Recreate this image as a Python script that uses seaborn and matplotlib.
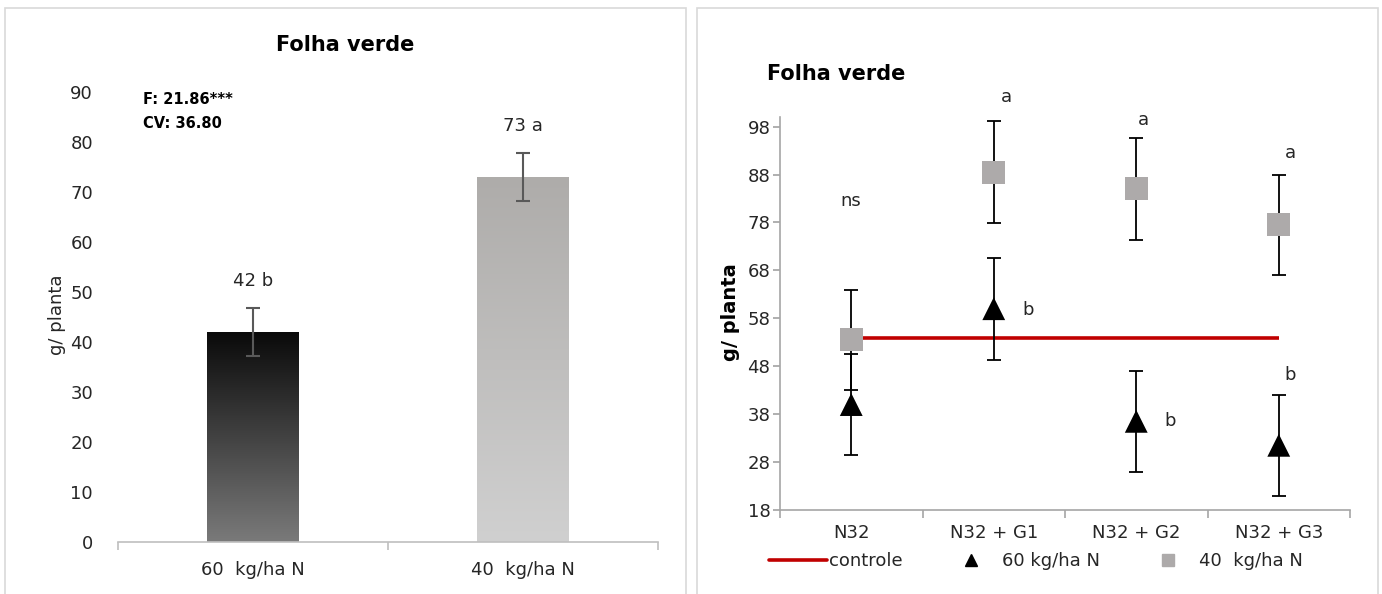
import numpy as np
import pandas as pd
import matplotlib
matplotlib.use("Agg")
import matplotlib.pyplot as plt
import seaborn as sns
from matplotlib.lines import Line2D
from matplotlib.patches import Rectangle

# -----------------------------
# Data
# -----------------------------
bar_cats = ["60  kg/ha N", "40  kg/ha N"]
bar_vals = [42, 73]
bar_err = [4.8, 4.75]
bar_labels = ["42 b", "73 a"]

trt = ["N32", "N32 + G1", "N32 + G2", "N32 + G3"]
dose60 = [40, 60, 36.5, 31.5]
dose40 = [53.5, 88.5, 85, 77.5]
err60 = [10.5, 10.6, 10.6, 10.5]
err40 = [10.5, 10.6, 10.6, 10.5]
controle = 53.9
letters40 = ["", "a", "a", "a"]
letters60 = ["", "b", "b", "b"]

sns.set_theme(style="white")
plt.rcParams["font.family"] = ["DejaVu Sans"]

W, H = 1382, 594
fig = plt.figure(figsize=(W / 100, H / 100), dpi=100)

def fx(px):
    return px / W

def fy(py):
    return 1 - py / H

# panel frames
for x0, x1 in [(5, 686), (697, 1378)]:
    fig.patches.append(Rectangle((fx(x0), fy(596)), fx(x1 - x0), fy(8) - fy(596),
                                 transform=fig.transFigure, fill=False,
                                 edgecolor="#d9d9d9", lw=1.2))

# -----------------------------
# Left: bar chart
# -----------------------------
ax1 = fig.add_axes([fx(118), fy(542), fx(658 - 118), fy(92) - fy(542)])
df_bar = pd.DataFrame({"dose": bar_cats, "g": bar_vals})
sns.barplot(data=df_bar, x="dose", y="g", ax=ax1, width=0.34, errorbar=None,
            color="#888888")
ax1.set_xlim(-0.5, 1.5)
ax1.set_ylim(0, 90)

grads = [("#7a7a7a", "#0a0a0a"), ("#d0d0d0", "#aeacaa")]
for patch, (c_bot, c_top) in zip(ax1.patches, grads):
    x0 = patch.get_x()
    w = patch.get_width()
    h = patch.get_height()
    cmap = matplotlib.colors.LinearSegmentedColormap.from_list("g", [c_bot, c_top])
    grad = np.linspace(0, 1, 256).reshape(-1, 1)
    im = ax1.imshow(grad, extent=[x0, x0 + w, 0, h], origin="lower",
                    aspect="auto", cmap=cmap, zorder=2)
    im.set_clip_path(patch)
    patch.set_facecolor("none")
    patch.set_edgecolor("none")

ax1.errorbar(range(len(bar_vals)), bar_vals, yerr=bar_err, fmt="none",
             ecolor="#595959", elinewidth=1.5, capsize=5, capthick=1.5, zorder=3)
for i, (v, e, lab) in enumerate(zip(bar_vals, bar_err, bar_labels)):
    ax1.text(i, v + e + 5.5, lab, ha="center", va="center", fontsize=13,
             color="#262626")

ax1.set_yticks(range(0, 91, 10))
ax1.set_xlabel("")
ax1.set_ylabel("")
ax1.tick_params(axis="y", length=0, labelsize=13, labelcolor="#262626", pad=18)
ax1.tick_params(axis="x", length=0, labelsize=13, labelcolor="#262626", pad=14)
ax1.set_xticks([-0.5, 0.5, 1.5], minor=True)
ax1.tick_params(axis="x", which="minor", direction="out", length=6,
                color="#bfbfbf", width=1.2, bottom=True)
for s in ["top", "right", "left"]:
    ax1.spines[s].set_visible(False)
ax1.spines["bottom"].set_color("#bfbfbf")
ax1.spines["bottom"].set_linewidth(1.2)

fig.text(fx(345), fy(45), "Folha verde", ha="center", va="center",
         fontsize=15, fontweight="bold", color="black")
fig.text(fx(143), fy(100), "F: 21.86***", ha="left", va="center",
         fontsize=10.5, fontweight="bold", color="black")
fig.text(fx(143), fy(124), "CV: 36.80", ha="left", va="center",
         fontsize=10.5, fontweight="bold", color="black")
fig.text(fx(57), fy(315), "g/ planta", ha="center", va="center",
         rotation=90, fontsize=13, color="#262626")

# -----------------------------
# Right: treatment means
# -----------------------------
ax2 = fig.add_axes([fx(780), fy(510), fx(1350 - 780), fy(117) - fy(510)])
df_pts = pd.DataFrame({
    "trt": trt * 2,
    "g": dose60 + dose40,
    "dose": ["60 kg/ha N"] * 4 + ["40  kg/ha N"] * 4,
})
pos = np.arange(len(trt))

ax2.plot([pos[0], pos[-1]], [controle, controle], color="#c00000", lw=2.6,
         zorder=2, solid_capstyle="butt")
ax2.errorbar(pos, dose40, yerr=err40, fmt="none", ecolor="black",
             elinewidth=1.3, capsize=5, capthick=1.3, zorder=3)
ax2.errorbar(pos, dose60, yerr=err60, fmt="none", ecolor="black",
             elinewidth=1.3, capsize=5, capthick=1.3, zorder=3)
sns.scatterplot(data=df_pts, x="trt", y="g", hue="dose", style="dose",
                palette={"60 kg/ha N": "black", "40  kg/ha N": "#adaaaa"},
                markers={"60 kg/ha N": "^", "40  kg/ha N": "s"},
                s=270, linewidth=0, ax=ax2, zorder=4, legend=False)

ax2.set_xlim(-0.5, 3.5)
ax2.set_ylim(18, 100)
ax2.set_yticks(range(18, 99, 10))
ax2.set_xticks(pos)
ax2.set_xticklabels(trt)
ax2.set_xlabel("")
ax2.set_ylabel("")
ax2.tick_params(axis="y", direction="out", length=5, color="#a6a6a6",
                labelsize=13, labelcolor="#262626", left=True, pad=2)
ax2.tick_params(axis="x", length=0, labelsize=13, labelcolor="#262626", pad=10)
ax2.set_xticks([-0.5, 0.5, 1.5, 2.5, 3.5], minor=True)
ax2.tick_params(axis="x", which="minor", direction="out", length=6,
                color="#a6a6a6", width=1.2, bottom=True)
for s in ["top", "right"]:
    ax2.spines[s].set_visible(False)
for s in ["left", "bottom"]:
    ax2.spines[s].set_color("#a6a6a6")
    ax2.spines[s].set_linewidth(1.2)

ax2.text(0, 82.5, "ns", ha="center", va="center", fontsize=13, color="#262626")
a_pos = [None, (0.09, 104.2), (0.05, 99.3), (0.08, 92.5)]
b_pos = [None, (0.24, 59.8), (0.24, 36.5), (0.08, 46.2)]
for i in range(1, 4):
    ax2.text(pos[i] + a_pos[i][0], a_pos[i][1], letters40[i], ha="center",
             va="center", fontsize=13, color="#262626", clip_on=False)
    ax2.text(pos[i] + b_pos[i][0], b_pos[i][1], letters60[i], ha="center",
             va="center", fontsize=13, color="#262626", clip_on=False)

fig.text(fx(767), fy(74), "Folha verde", ha="left", va="center",
         fontsize=15, fontweight="bold", color="black")
fig.text(fx(731), fy(312), "g/ planta", ha="center", va="center",
         rotation=90, fontsize=14, fontweight="bold", color="black")

handles = [
    Line2D([], [], color="#c00000", lw=2.6),
    Line2D([], [], color="black", marker="^", ls="none", markersize=9),
    Line2D([], [], color="#adaaaa", marker="s", ls="none", markersize=9),
]
fig.legend(handles, ["controle", "60 kg/ha N", "40  kg/ha N"],
           loc="center", bbox_to_anchor=(fx(1036), fy(561)), ncol=3,
           frameon=False, fontsize=13, handlelength=3.2, handletextpad=0.1,
           columnspacing=2.2, labelcolor="#262626")

fig.savefig("out.png", dpi=100)
